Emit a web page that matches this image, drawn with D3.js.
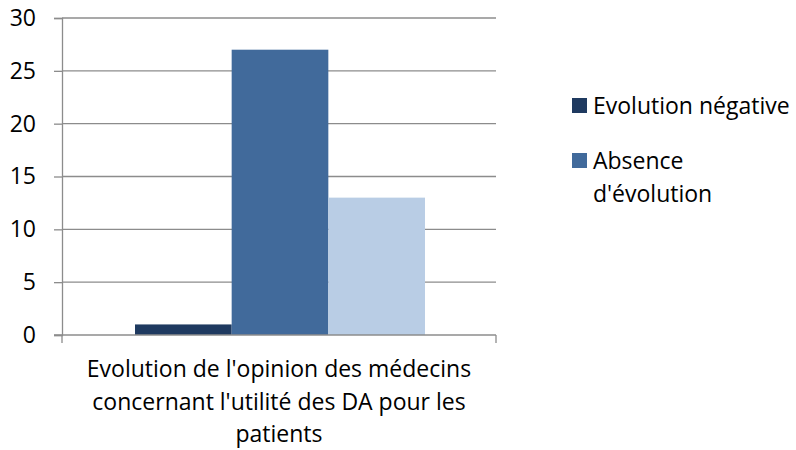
<!DOCTYPE html>
<html>
<head>
<meta charset="utf-8">
<title>Evolution de l'opinion des médecins</title>
<style>
  body { margin: 0; background: #fff; }
  text { font-family: "Open Sans", "Liberation Sans", sans-serif; fill: #000; }
</style>
</head>
<body>
<script src="https://d3js.org/d3.v7.min.js"></script>
<script>

// data
var categories = ["Evolution de l'opinion des médecins concernant l'utilité des DA pour les patients"];
var categoryLines = ["Evolution de l'opinion des médecins", "concernant l'utilité des DA pour les", "patients"];
var seriesNames = ["Evolution négative", "Absence d'évolution", "Evolution positive"];
var seriesValues = [1, 27, 13];
var seriesColors = ["#1f3a60", "#416a9b", "#b9cde5"];
var legendShown = [["Evolution négative"], ["Absence", "d'évolution"]];
var yTicks = [0, 5, 10, 15, 20, 25, 30];

var svg = d3.select("body")
    .append("svg")
    .attr("width", 796)
    .attr("height", 450);

var plotLeft = 62, plotRight = 496, plotTop = 18, plotBottom = 335;
var fontSize = "23px";

var x = d3.scaleBand()
    .domain(categories)
    .range([plotLeft, plotRight]);

var xs = d3.scaleBand()
    .domain(seriesNames)
    .range([x(categories[0]) + 73, x(categories[0]) + 363]);

var y = d3.scaleLinear()
    .domain([0, 30])
    .range([plotBottom, plotTop]);

// gridlines
svg.append("g")
    .selectAll("line")
    .data(yTicks.filter(function(d){ return d > 0; }))
    .enter()
    .append("line")
    .attr("x1", plotLeft).attr("x2", plotRight)
    .attr("y1", function(d){ return y(d); })
    .attr("y2", function(d){ return y(d); })
    .attr("stroke", "#8c8c8c")
    .attr("stroke-width", 1.3);

// bars
svg.append("g")
    .selectAll("rect")
    .data(seriesValues)
    .enter()
    .append("rect")
    .attr("x", function(d, i){ return xs(seriesNames[i]); })
    .attr("width", xs.bandwidth())
    .attr("y", function(d){ return y(d); })
    .attr("height", function(d){ return y(0) - y(d); })
    .attr("fill", function(d, i){ return seriesColors[i]; });

// y axis
var yAxis = svg.append("g")
    .attr("transform", "translate(" + plotLeft + ",0)")
    .call(d3.axisLeft(y).tickValues(yTicks).tickSize(8).tickPadding(18));
yAxis.select(".domain").attr("stroke", "#8c8c8c").attr("stroke-width", 1.3);
yAxis.selectAll(".tick line").attr("stroke", "#8c8c8c").attr("stroke-width", 1.3);
yAxis.selectAll(".tick text").style("font-size", fontSize).attr("fill", "#000");

// x axis
var xAxis = svg.append("g")
    .attr("transform", "translate(0," + plotBottom + ")");
xAxis.append("line")
    .attr("x1", plotLeft - 8).attr("x2", plotRight)
    .attr("y1", 0).attr("y2", 0)
    .attr("stroke", "#8c8c8c").attr("stroke-width", 1.3);
xAxis.selectAll("line.tk")
    .data([plotLeft, plotRight])
    .enter()
    .append("line")
    .attr("class", "tk")
    .attr("x1", function(d){ return d; }).attr("x2", function(d){ return d; })
    .attr("y1", 0).attr("y2", 8)
    .attr("stroke", "#8c8c8c").attr("stroke-width", 1.3);

var cx = x(categories[0]) + x.bandwidth() / 2;
xAxis.append("text")
    .attr("text-anchor", "middle")
    .style("font-size", fontSize)
    .selectAll("tspan")
    .data(categoryLines)
    .enter()
    .append("tspan")
    .attr("x", cx)
    .attr("y", function(d, i){ return 42 + i * 32.5; })
    .text(function(d){ return d; });

// legend
var legend = svg.append("g");
var legendY = [98, 153];
legendShown.forEach(function(lines, i){
    legend.append("rect")
        .attr("x", 572).attr("y", legendY[i])
        .attr("width", 15).attr("height", 15)
        .attr("fill", seriesColors[i]);
    legend.append("text")
        .style("font-size", fontSize)
        .selectAll("tspan")
        .data(lines)
        .enter()
        .append("tspan")
        .attr("x", 593)
        .attr("y", function(d, j){ return legendY[i] + 16 + j * 32.5; })
        .text(function(d){ return d; });
});

</script>
</body>
</html>
